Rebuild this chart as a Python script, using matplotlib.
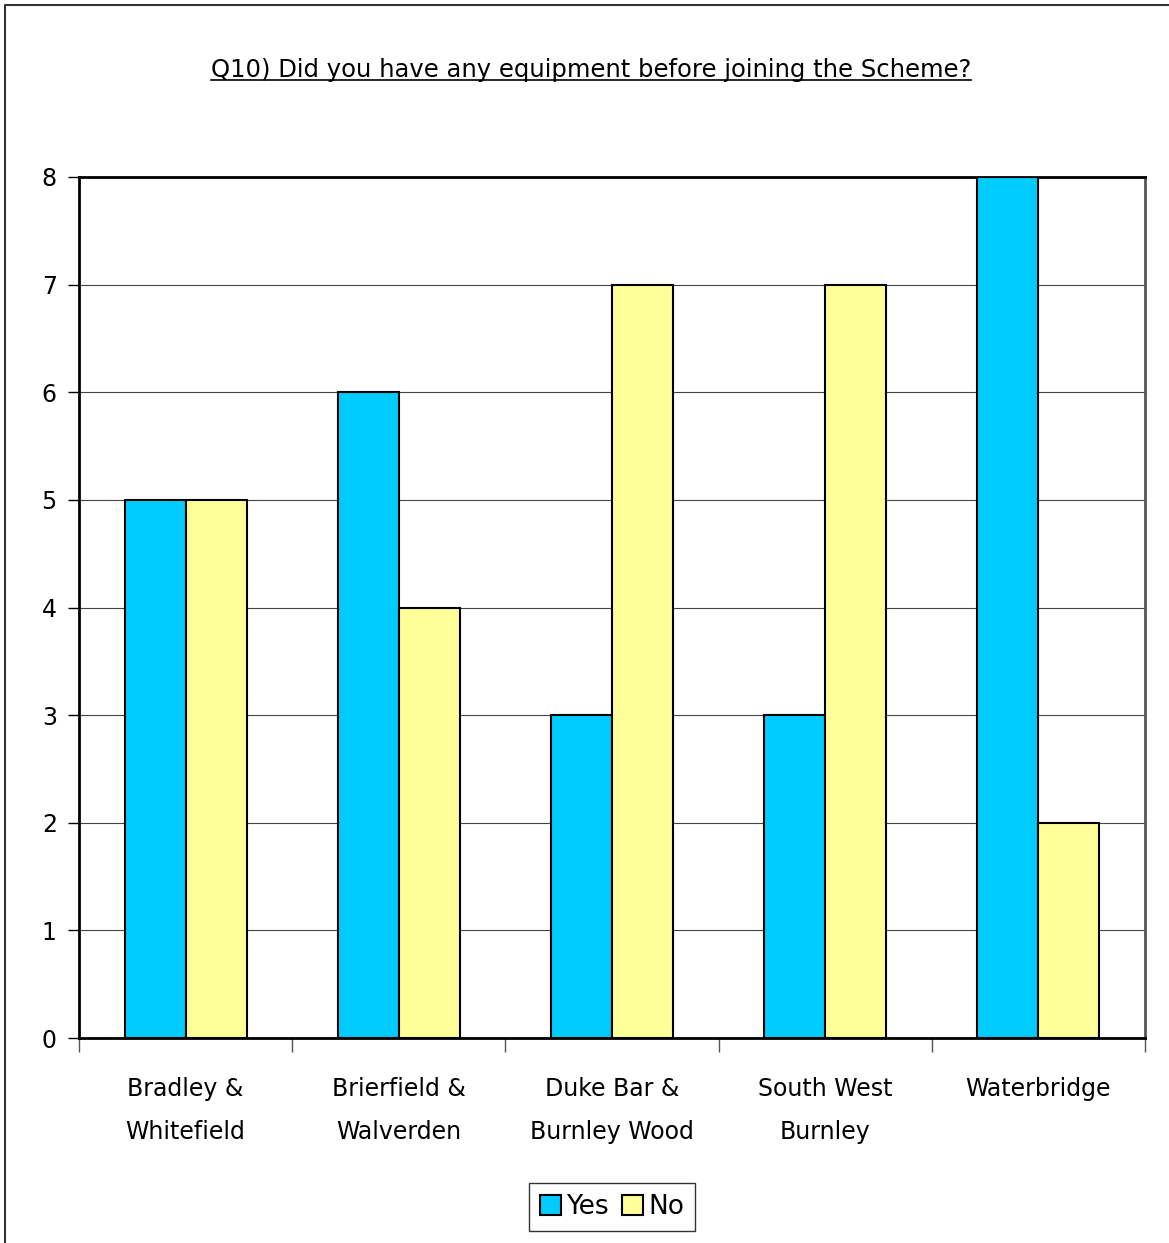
import matplotlib.pyplot as plt
import numpy as np
from matplotlib.lines import Line2D

categories = ["Bradley &\nWhitefield", "Brierfield &\nWalverden", "Duke Bar &\nBurnley Wood",
              "South West\nBurnley", "Waterbridge"]
yes_vals = [5, 6, 3, 3, 8]
no_vals = [5, 4, 7, 7, 2]
title = "Q10) Did you have any equipment before joining the Scheme?"

plt.rcParams["font.family"] = ["DejaVu Sans"]

fig = plt.figure(figsize=(11.69, 12.43), dpi=100)
ax = fig.add_axes([79 / 1169, 1 - 1038 / 1243, (1145 - 79) / 1169, (1038 - 177) / 1243])

x = np.arange(len(categories))
w = 0.286
ax.bar(x - w / 2, yes_vals, w, color="#00CCFF", edgecolor="black", linewidth=1.5, label="Yes", zorder=3)
ax.bar(x + w / 2, no_vals, w, color="#FFFF99", edgecolor="black", linewidth=1.5, label="No", zorder=3)

ax.set_xlim(-0.5, len(categories) - 0.5)
ax.set_ylim(0, 8)
ax.set_yticks(range(9))
ax.tick_params(axis="y", labelsize=17, length=8, width=1, pad=8)
ax.set_xticks(np.arange(len(categories) + 1) - 0.5)
ax.set_xticklabels([])
ax.set_xticks(x, minor=True)
ax.set_xticklabels(categories, minor=True, fontsize=17, linespacing=2.0)
ax.tick_params(axis="x", which="major", length=10, width=1, direction="out", color="#555555")
ax.tick_params(axis="x", which="minor", length=0, pad=28)
ax.grid(axis="y", color="#444444", linewidth=0.8, zorder=0)
for s in ax.spines.values():
    s.set_linewidth(2)
ax.spines["right"].set_color("#555555")

fig.text(591 / 1169, 1 - 70 / 1243, title, ha="center", va="center", fontsize=17.5)
t = fig.texts[-1]
fig.canvas.draw()
bb = t.get_window_extent()
fig.add_artist(Line2D([bb.x0 / 1169, bb.x1 / 1169], [(bb.y0 + 2) / 1243] * 2,
                      transform=fig.transFigure, color="black", linewidth=1.2))

leg = fig.legend(loc="center", bbox_to_anchor=(612 / 1169, 1 - 1207 / 1243), ncol=2, fontsize=19,
                 frameon=True, fancybox=False, edgecolor="black", handlelength=0.8, handleheight=0.8,
                 handletextpad=0.2, columnspacing=0.5, borderpad=0.4)
leg.get_frame().set_linewidth(1)

# figure border (left and top visible)
fig.add_artist(Line2D([5 / 1169, 5 / 1169, 1.0], [0, 1 - 5 / 1243, 1 - 5 / 1243],
                      transform=fig.transFigure, color="#333333", linewidth=1.5))

fig.savefig("out.png", dpi=100)
